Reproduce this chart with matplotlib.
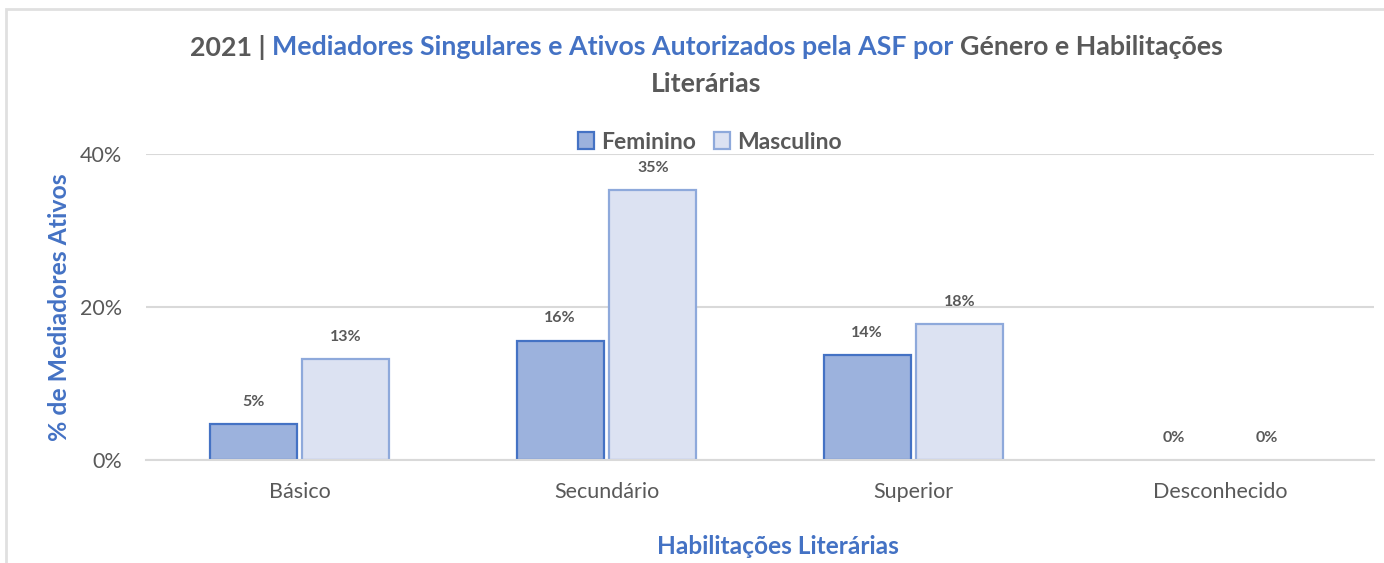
import matplotlib
matplotlib.use('Agg')
import matplotlib.pyplot as plt
import numpy as np
from matplotlib.patches import Rectangle, Patch

categories = ['Básico', 'Secundário', 'Superior', 'Desconhecido']
feminino = [4.7, 15.6, 13.7, 0.0]
masculino = [13.2, 35.3, 17.8, 0.0]
feminino_labels = ['5%', '16%', '14%', '0%']
masculino_labels = ['13%', '35%', '18%', '0%']
yticks = [0, 20, 40]
ytick_labels = ['0%', '20%', '40%']

GRAY = '#595959'
BLUE = '#4472C4'
plt.rcParams['font.family'] = ['Lato', 'DejaVu Sans']

W, H = 1384, 563
fig = plt.figure(figsize=(W / 100, H / 100), dpi=100)
ax = fig.add_axes([146 / W, 103 / H, 1228 / W, 306 / H])

x = np.arange(len(categories))
bw = 0.283
fem_bars = ax.bar(x - 0.151, feminino, bw, color='#9CB2DD', edgecolor=BLUE, linewidth=1.6, zorder=3)
mas_bars = ax.bar(x + 0.151, masculino, bw, color='#DCE2F2', edgecolor='#8EA9DB', linewidth=1.6, zorder=3)
# no outline for empty bars
for b, v in zip(list(fem_bars) + list(mas_bars), feminino + masculino):
    if v == 0:
        b.set_linewidth(0)

for xi, v, lab in zip(x - 0.151, feminino, feminino_labels):
    ax.annotate(lab, (xi, v), xytext=(0, 11), textcoords='offset points', ha='center',
                va='bottom', fontsize=11.5, fontweight='bold', color=GRAY)
for xi, v, lab in zip(x + 0.151, masculino, masculino_labels):
    ax.annotate(lab, (xi, v), xytext=(0, 11), textcoords='offset points', ha='center',
                va='bottom', fontsize=11.5, fontweight='bold', color=GRAY)

ax.set_xlim(-0.5, len(categories) - 0.5)
ax.set_ylim(0, 40)
ax.set_yticks(yticks)
ax.set_yticklabels(ytick_labels)
ax.set_xticks(x)
ax.set_xticklabels(categories)
ax.tick_params(axis='both', length=0, labelsize=15.5, labelcolor=GRAY)
ax.tick_params(axis='y', pad=17)
ax.tick_params(axis='x', pad=16)
ax.yaxis.grid(True, color='#D9D9D9', linewidth=1.5, zorder=0)
ax.set_axisbelow(True)
for s in ['top', 'right', 'left']:
    ax.spines[s].set_visible(False)
ax.spines['bottom'].set_color('#D9D9D9')
ax.spines['bottom'].set_linewidth(1.5)
ax.spines['bottom'].set_zorder(4)

fig.text(60 / W, 1 - 307 / H, '% de Mediadores Ativos', rotation=90, ha='center', va='center',
         fontsize=17.8, fontweight='bold', color=BLUE)
fig.text(778 / W, 1 - 547 / H, 'Habilitações Literárias', ha='center', va='center',
         fontsize=17.6, fontweight='bold', color=BLUE)

handles = [Patch(facecolor='#9CB2DD', edgecolor=BLUE, linewidth=1.6, label='Feminino'),
           Patch(facecolor='#DCE2F2', edgecolor='#8EA9DB', linewidth=1.6, label='Masculino')]
fig.legend(handles=handles, loc='center', bbox_to_anchor=(710 / W, 1 - 142 / H), ncol=2,
           frameon=False, handlelength=0.7, handleheight=0.7, handletextpad=0.3, columnspacing=0.8,
           prop={'size': 16.5, 'weight': 'bold'}, labelcolor=GRAY)

# title with mixed colours
pieces = [('2021 | ', GRAY), ('Mediadores Singulares e Ativos Autorizados pela ASF por ', BLUE),
          ('Género e Habilitações', GRAY)]
renderer = fig.canvas.get_renderer()
texts = [fig.text(0, 1 - 47 / H, t, color=c, fontsize=19.3, fontweight='bold', va='center', ha='left')
         for t, c in pieces]
widths = [t.get_window_extent(renderer).width for t in texts]
cx = 706
start = cx - sum(widths) / 2
for t, w in zip(texts, widths):
    t.set_x(start / W)
    start += w
fig.text(cx / W, 1 - 84 / H, 'Literárias', color=GRAY, fontsize=19.3, fontweight='bold',
         va='center', ha='center')

fig.patches.append(Rectangle((6 / W, -0.1), 1.2, 1 - 9 / H + 0.1, transform=fig.transFigure,
                             fill=False, edgecolor='#E0E0E0', linewidth=2))

fig.savefig('out.png', dpi=100)
